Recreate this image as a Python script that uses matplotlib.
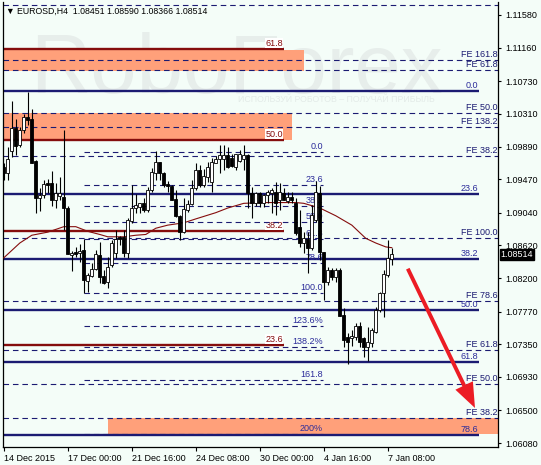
import matplotlib
matplotlib.use("Agg")
import matplotlib.pyplot as plt
from matplotlib.patches import Rectangle

plt.rcParams['font.family'] = ['Liberation Sans', 'DejaVu Sans']

# EURUSD H4 candles
opens = [1.0963, 1.0955, 1.0983, 1.1013, 1.0991, 1.1010, 1.1027, 1.1025, 1.0970, 1.0923,
         1.0927, 1.0942, 1.0942, 1.0920, 1.0925, 1.0924, 1.0910, 1.0850, 1.0854, 1.0852,
         1.0856, 1.0816, 1.0822, 1.0832, 1.0850, 1.0822, 1.0815, 1.0837, 1.0852, 1.0873,
         1.0873, 1.0852, 1.0893, 1.0910, 1.0911, 1.0916, 1.0907, 1.0933, 1.0955, 1.0969,
         1.0955, 1.0941, 1.0938, 1.0921, 1.0900, 1.0879, 1.0907, 1.0915, 1.0936, 1.0959,
         1.0940, 1.0950, 1.0943, 1.0968, 1.0973, 1.0973, 1.0978, 1.0974, 1.0963, 1.0970,
         1.0973, 1.0978, 1.0929, 1.0917, 1.0929, 1.0917, 1.0927, 1.0929, 1.0930, 1.0920,
         1.0929, 1.0919, 1.0924, 1.0916, 1.0886, 1.0865, 1.0870, 1.0859, 1.0895, 1.0929,
         1.0854, 1.0815, 1.0830, 1.0821, 1.0830, 1.0772, 1.0744, 1.0743, 1.0744, 1.0759,
         1.0743, 1.0731, 1.0736, 1.0751, 1.0779, 1.0801, 1.0824, 1.08451]
highs = [1.0968, 1.0988, 1.1048, 1.1025, 1.1014, 1.1031, 1.1059, 1.1037, 1.0972, 1.0936,
         1.0946, 1.0947, 1.0958, 1.0942, 1.0950, 1.1010, 1.0912, 1.0855, 1.0860, 1.0864,
         1.0870, 1.0826, 1.0839, 1.0856, 1.0866, 1.0830, 1.0847, 1.0869, 1.0882, 1.0874,
         1.0882, 1.0897, 1.0940, 1.0928, 1.0917, 1.0923, 1.0937, 1.0961, 1.0983, 1.0969,
         1.0956, 1.0945, 1.0940, 1.0933, 1.0901, 1.0923, 1.0920, 1.0946, 1.0968, 1.0965,
         1.0960, 1.0969, 1.0974, 1.0977, 1.0991, 1.0991, 1.0988, 1.0980, 1.0980, 1.0985,
         1.0991, 1.0980, 1.0937, 1.0930, 1.0930, 1.0928, 1.0933, 1.0936, 1.0943, 1.0942,
         1.0936, 1.0930, 1.0930, 1.0923, 1.0907, 1.0879, 1.0879, 1.0914, 1.0945, 1.0938,
         1.0854, 1.0834, 1.0833, 1.0833, 1.0833, 1.0781, 1.0749, 1.0753, 1.0762, 1.0763,
         1.0744, 1.0757, 1.0756, 1.0783, 1.0802, 1.0830, 1.0869, 1.08590]
lows = [1.0946, 1.0946, 1.0975, 1.0978, 1.0988, 1.1007, 1.1017, 1.0968, 1.0904, 1.0906,
        1.0923, 1.0929, 1.0912, 1.0910, 1.0920, 1.0882, 1.0851, 1.0829, 1.0847, 1.0841,
        1.0801, 1.0802, 1.0821, 1.0830, 1.0814, 1.0812, 1.0807, 1.0834, 1.0846, 1.0863,
        1.0847, 1.0846, 1.0891, 1.0904, 1.0904, 1.0905, 1.0905, 1.0930, 1.0946, 1.0946,
        1.0937, 1.0930, 1.0920, 1.0899, 1.0869, 1.0878, 1.0905, 1.0914, 1.0933, 1.0937,
        1.0937, 1.0943, 1.0930, 1.0968, 1.0955, 1.0959, 1.0961, 1.0963, 1.0959, 1.0969,
        1.0959, 1.0910, 1.0897, 1.0912, 1.0911, 1.0911, 1.0917, 1.0904, 1.0901, 1.0907,
        1.0920, 1.0916, 1.0917, 1.0875, 1.0860, 1.0852, 1.0826, 1.0856, 1.0892, 1.0843,
        1.0792, 1.0811, 1.0817, 1.0815, 1.0771, 1.0731, 1.0709, 1.0733, 1.0740, 1.0731,
        1.0718, 1.0713, 1.0731, 1.0749, 1.0776, 1.0770, 1.0821, 1.08366]
closes = [1.0955, 1.0973, 1.1013, 1.0990, 1.1010, 1.1027, 1.1023, 1.0968, 1.0923, 1.0927,
          1.0941, 1.0940, 1.0920, 1.0929, 1.0929, 1.0910, 1.0851, 1.0852, 1.0851, 1.0855,
          1.0817, 1.0824, 1.0832, 1.0851, 1.0821, 1.0814, 1.0834, 1.0865, 1.0870, 1.0870,
          1.0852, 1.0895, 1.0910, 1.0914, 1.0917, 1.0907, 1.0933, 1.0956, 1.0969, 1.0955,
          1.0940, 1.0938, 1.0920, 1.0900, 1.0879, 1.0909, 1.0915, 1.0936, 1.0959, 1.0940,
          1.0951, 1.0963, 1.0969, 1.0973, 1.0978, 1.0978, 1.0963, 1.0964, 1.0979, 1.0980,
          1.0978, 1.0929, 1.0917, 1.0929, 1.0917, 1.0927, 1.0930, 1.0933, 1.0917, 1.0930,
          1.0920, 1.0924, 1.0920, 1.0878, 1.0865, 1.0872, 1.0859, 1.0901, 1.0930, 1.0854,
          1.0815, 1.0830, 1.0821, 1.0830, 1.0771, 1.0740, 1.0738, 1.0746, 1.0759, 1.0738,
          1.0731, 1.0738, 1.0753, 1.0779, 1.0801, 1.0825, 1.0846, 1.08514]

# moving average (bar index, price)
ma_bars = [0, 4, 7, 11, 15, 18, 21, 24, 26, 30, 33, 35.5, 38, 41, 45, 48, 53, 56, 60, 65,
           73, 75, 79, 83, 87, 90.5, 93, 95.5, 97]
ma_vals = [1.0846, 1.0865, 1.0875, 1.0879, 1.0886, 1.0886, 1.0880, 1.0876, 1.0873, 1.0873,
           1.0875, 1.0876, 1.0884, 1.0888, 1.0891, 1.0896, 1.0904, 1.0910, 1.0916, 1.0917,
           1.0917, 1.0916, 1.0910, 1.0900, 1.0888, 1.0871, 1.0865, 1.0860, 1.0859]

# Fibo expansion levels (full width dashed)
fe_levels = [1.11002, 1.10873, 1.10321, 1.10141, 1.09768, 1.08714, 1.07905, 1.07275, 1.06838, 1.06401]
fe_labels = ["FE 161.8", "FE 61.8", "FE 50.0", "FE 138.2", "FE 38.2",
             "FE 100.0", "FE 78.6", "FE 61.8", "FE 50.0", "FE 38.2"]
top_level = 1.11709

# navy retracement grid
blue_levels = [1.10603, 1.09280, 1.08445, 1.07789, 1.07121, 1.06183]
blue_labels = ["0.0", "23.6", "38.2", "50.0", "61.8", "78.6"]

# dark red retracement grid
red_levels = [1.11143, 1.09974, 1.08804, 1.07339]
red_labels = ["61.8", "50.0", "38.2", "23.6"]

# short fibo grid
fib_levels = [1.09820, 1.09395, 1.09126, 1.08920, 1.08702, 1.08393, 1.08008,
              1.07584, 1.07314, 1.06890, 1.06196]
fib_labels = ["0.0", "23.6", "38.2", "50.0", "61.8", "78.6", "100.0",
              "123.6%", "138.2%", "161.8", "200%"]

# target zones
zone_tops = [1.11135, 1.10321, 1.06401]
zone_bottoms = [1.10860, 1.09974, 1.06196]
zone_starts = [0, 0, 26]
zone_ends = [75, 72, 124]

price_ticks = [1.11580, 1.11160, 1.10730, 1.10310, 1.09890, 1.09470, 1.09040,
               1.08620, 1.08200, 1.07770, 1.07350, 1.06930, 1.06500, 1.06080]
time_ticks = [0, 16, 32, 48, 64, 80, 96]
time_labels = ["14 Dec 2015", "17 Dec 00:00", "21 Dec 16:00", "24 Dec 08:00",
               "30 Dec 00:00", "4 Jan 16:00", "7 Jan 08:00"]

bg = '#f4fdf8'
navy = '#1b1b72'
dred = '#850d0d'
salmon = '#ffa07a'
lblue = '#2b2b9a'

fig = plt.figure(figsize=(5.41, 4.65), dpi=100, facecolor=bg)
ax = fig.add_axes([3 / 541, 18 / 465, 495 / 541, 445 / 465], facecolor=bg)
ax.set_xlim(-0.2, 123.55)
ax.set_ylim(1.06029, 1.11747)

# watermark
ax.text(30 / 541, 1 - 93 / 465, "RoboForex", transform=fig.transFigure, fontsize=60,
        color='#e7eeeb', zorder=0.2)
ax.text(238 / 541, 1 - 102 / 465, "ИСПОЛЬЗУЙ РОБОТОВ – ПОЛУЧАЙ ПРИБЫЛЬ",
        transform=fig.transFigure, fontsize=6.3, color='#e3ebe8', zorder=0.2)

for t, b, s, e in zip(zone_tops, zone_bottoms, zone_starts, zone_ends):
    ax.add_patch(Rectangle((s, b), e - s, t - b, facecolor=salmon, edgecolor='none', zorder=1))

fs = 6.5
right_x = 123.4
ax.axhline(top_level, color=navy, lw=0.8, dashes=(5, 3.5), zorder=2)
for lv, lb in zip(fe_levels, fe_labels):
    ax.axhline(lv, color=navy, lw=0.8, dashes=(5, 3.5), zorder=2)
    ax.text(right_x, lv + 0.00012, lb, ha='right', va='bottom', fontsize=fs, color=navy, zorder=2)

for lv, lb in zip(blue_levels, blue_labels):
    ax.plot([-1, 118.75], [lv, lv], color=navy, lw=1.7, zorder=2, solid_capstyle='butt')
    ax.text(118.6, lv + 0.00015, lb, ha='right', va='bottom', fontsize=fs, color=lblue, zorder=2)

for lv, lb in zip(red_levels, red_labels):
    ax.plot([-1, 70], [lv, lv], color=dred, lw=1.7, zorder=2, solid_capstyle='butt')
    ax.text(69.8, lv + 0.00015, lb, ha='right', va='bottom', fontsize=fs, color=dred, zorder=2,
            bbox=dict(boxstyle='square,pad=0.05', fc='white', ec='none'))

for lv, lb in zip(fib_levels, fib_labels):
    ax.plot([20, 79.75], [lv, lv], color=navy, lw=0.8, dashes=(5, 3.5), zorder=2)
    ax.text(79.75, lv + 0.00012, lb, ha='right', va='bottom', fontsize=fs, color=lblue, zorder=2)

ax.plot(ma_bars, ma_vals, color=dred, lw=0.8, zorder=3)

# candles
xs = list(range(len(opens)))
ax.vlines(xs, lows, highs, color='black', lw=0.8, zorder=4)
body_bottom = [min(o, c) for o, c in zip(opens, closes)]
body_h = [max(abs(c - o), 0.00004) for o, c in zip(opens, closes)]
body_col = ['white' if c >= o else 'black' for o, c in zip(opens, closes)]
ax.bar(xs, body_h, bottom=body_bottom, width=0.72, color=body_col,
       edgecolor='black', linewidth=0.6, zorder=5)

# forecast arrow
ax.annotate('', xy=(117.8, 1.0653), xytext=(101, 1.0832),
            arrowprops=dict(width=2.8, headwidth=14, headlength=18, facecolor='#ec1c24',
                            edgecolor='#ec1c24', linewidth=0, shrink=0), zorder=6)

# axes styling
ax.spines['top'].set_visible(False)
for side in ['left', 'right', 'bottom']:
    ax.spines[side].set_color('black')
    ax.spines[side].set_linewidth(0.9)
ax.yaxis.tick_right()
ax.set_yticks(price_ticks)
ax.set_yticklabels([f"{p:.5f}" for p in price_ticks])
ax.tick_params(axis='y', direction='out', length=2.5, width=0.8, pad=3, labelsize=fs, colors='black')
ax.set_xticks(time_ticks)
ax.set_xticklabels(time_labels, ha='left')
ax.tick_params(axis='x', direction='out', length=3, width=0.8, pad=2, labelsize=fs, colors='black')

# current price tag
ax.annotate("1.08514", xy=(1, 1.08514), xycoords=('axes fraction', 'data'),
            xytext=(2, -0.5), textcoords='offset points', ha='left', va='center',
            color='white', fontsize=fs, zorder=10, annotation_clip=False,
            bbox=dict(boxstyle='square,pad=0.12', fc='black', ec='black'))

fig.text(6 / 541, 1 - 11 / 465, "▼ EUROSD,H4  1.08451 1.08590 1.08366 1.08514",
         fontsize=6.3, color='black', va='center')

fig.savefig("out.png", dpi=100, facecolor=bg)
